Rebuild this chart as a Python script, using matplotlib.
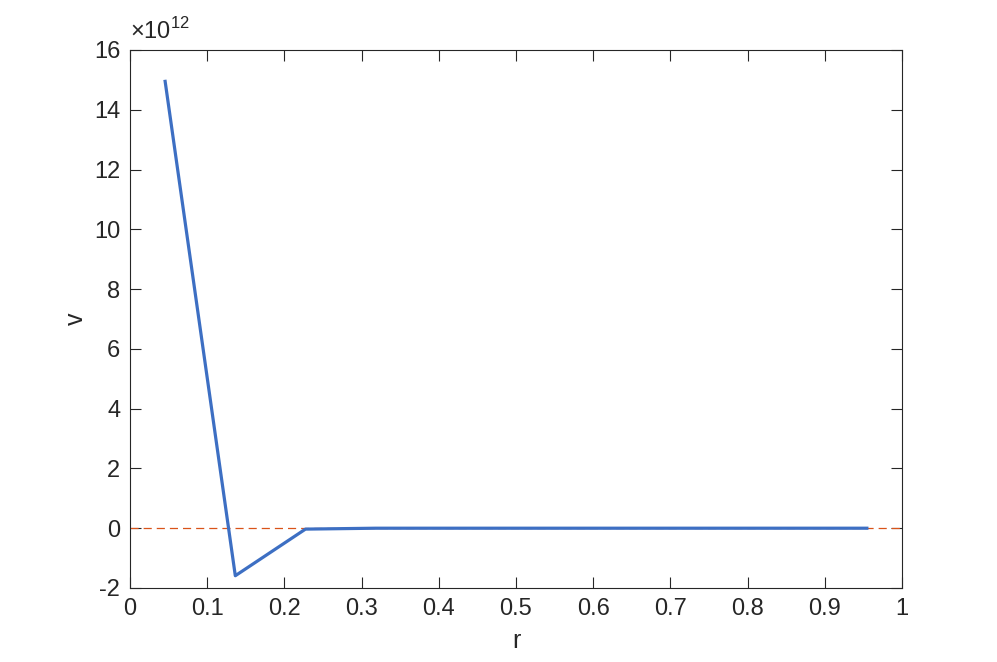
import matplotlib.pyplot as plt
import numpy as np

plt.rcParams['font.family'] = ['Liberation Sans', 'DejaVu Sans']
plt.rcParams['mathtext.fontset'] = 'custom'
plt.rcParams['mathtext.rm'] = 'Liberation Sans'
plt.rcParams['axes.unicode_minus'] = False

# bin centres and values
r = np.array([0.0455, 0.1364, 0.2273, 0.3182, 0.4091, 0.5, 0.5909,
              0.6818, 0.7727, 0.8636, 0.9545])
v = np.array([14.95e12, -1.59e12, -0.03e12, 0.0, 0.0, 0.0, 0.0,
              0.0, 0.0, 0.0, 0.0])
scale = 1e12

axis_color = '#262626'

fig = plt.figure(figsize=(9.97, 6.62), dpi=100)
ax = fig.add_axes([0.1304, 0.1118, 0.7743, 0.8127])

ax.plot([0, 1], [0, 0], '--', color='#d95319', lw=0.9, dashes=(6.5, 4))
ax.plot(r, v / scale, '-', color='#3d6fc3', lw=2.3)

ax.set_xlim(0, 1)
ax.set_ylim(-2, 16)
ax.set_xticks(np.arange(0, 1.01, 0.1))
ax.set_xticklabels(['0', '0.1', '0.2', '0.3', '0.4', '0.5', '0.6',
                    '0.7', '0.8', '0.9', '1'])
ax.set_yticks(np.arange(-2, 17, 2))

ax.text(0.0, 1.012, r'$\times10^{12}$', transform=ax.transAxes,
        fontsize=17, color=axis_color, ha='left', va='bottom')

ax.tick_params(direction='in', length=8, width=0.8, colors=axis_color,
               labelsize=17, top=True, right=True, pad=7)
for s in ax.spines.values():
    s.set_color(axis_color)
    s.set_linewidth(0.8)

ax.set_xlabel('r', fontsize=18, color=axis_color, labelpad=7)
ax.set_ylabel('v', fontsize=18, color=axis_color, labelpad=4)

plt.savefig('out.png', dpi=100)
plt.close()
